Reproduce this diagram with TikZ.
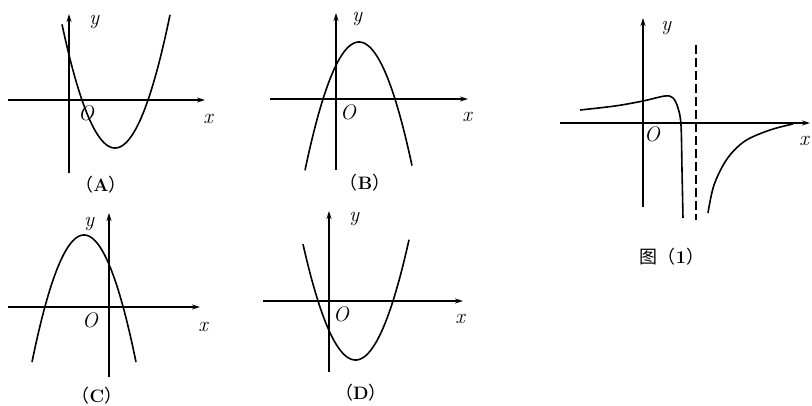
\documentclass[tikz,border=0pt]{standalone}
\usepackage{fontspec}
\newfontfamily\cjk{Noto Sans CJK SC}
\usetikzlibrary{arrows.meta}
\tikzset{
  axis/.style={line width=1.3pt,-{Stealth[length=8pt,width=5pt]}},
  curve/.style={line width=1.6pt},
  lab/.style={font=\fontsize{21}{21}\selectfont\itshape,inner sep=0pt},
  captxt/.style={font=\fontsize{18}{18}\selectfont,inner sep=0pt}
}
\newcommand{\capt}[1]{{\cjk （}{\bfseries #1}{\cjk ）}}
\begin{document}
\begin{tikzpicture}[x=1pt,y=-1pt]
\useasboundingbox (0,0) rectangle (812,406);
% ---------- (A)
\draw[axis] (8,100) -- (205,100);
\draw[axis] (69,173) -- (69,14);
\node[lab] (yA) at (94,22) {y};
\node[lab] (xA) at (208,119) {x};
\node[lab] (OA) at (86,113) {O};
\draw[curve] plot[domain=62:170,samples=80] (\x,{148-0.044*(\x-115)^2});
\node[captxt] (cA) at (101,185) {\capt{A}};
% ---------- (B)
\draw[axis] (270,99) -- (468,99);
\draw[axis] (336,170) -- (336,13);
\node[lab] (yB) at (357,19) {y};
\node[lab] (xB) at (467,117) {x};
\node[lab] (OB) at (348,112) {O};
\draw[curve] plot[domain=305:412,samples=80] (\x,{42+0.044*(\x-359)^2});
\node[captxt] (cB) at (365,183) {\capt{B}};
% ---------- (C)
\draw[axis] (8,307) -- (200,307);
\draw[axis] (109,377) -- (109,213);
\node[lab] (yC) at (89,224) {y};
\node[lab] (xC) at (203,327) {x};
\node[lab] (OC) at (90,320) {O};
\draw[curve] plot[domain=32:136,samples=80] (\x,{235+0.047*(\x-84)^2});
\node[captxt] (cC) at (97,396) {\capt{C}};
% ---------- (D)
\draw[axis] (263,301) -- (463,301);
\draw[axis] (329,372) -- (329,211);
\node[lab] (yD) at (354,219) {y};
\node[lab] (xD) at (460,319) {x};
\node[lab] (OD) at (341,314) {O};
\draw[curve] plot[domain=303:409,samples=80] (\x,{360-0.042*(\x-355.5)^2});
\node[captxt] (cD) at (361,393) {\capt{D}};
% ---------- figure (1)
\draw[axis] (560,123) -- (810,123);
\draw[axis] (643,207) -- (643,18);
\node[lab] (y1) at (666,28) {y};
\node[lab] (x1) at (804,141) {x};
\node[lab] (O1) at (652,134) {O};
\draw[line width=2pt,dash pattern=on 9pt off 4pt] (696,45) -- (696,220);
\draw[curve] plot[smooth,tension=0.55] coordinates {(580,110) (615,106) (643,101) (665,96) (673,98) (678,108) (681,125) (682,170) (683,218)};
\draw[curve] plot[smooth,tension=0.55] coordinates {(708,213) (714,185) (727,159) (745,141) (770,130) (793,124)};
\node[captxt] (c1) at (672,257) {{\cjk 图}\capt{1}};
\end{tikzpicture}
\end{document}
